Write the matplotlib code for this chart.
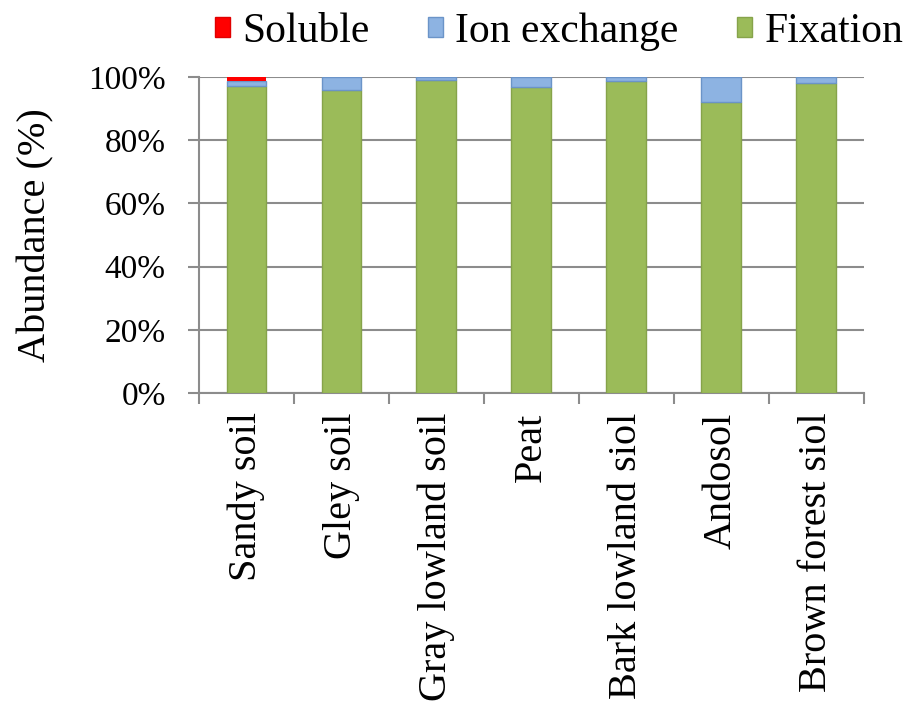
import matplotlib
matplotlib.use("Agg")
import matplotlib.pyplot as plt
from matplotlib.ticker import PercentFormatter, FixedLocator, NullFormatter
from matplotlib.patches import Patch
import numpy as np

categories = ["Sandy soil", "Gley soil", "Gray lowland soil", "Peat",
              "Bark lowland siol", "Andosol", "Brown forest siol"]
soluble = [1.2, 0.0, 0.0, 0.0, 0.0, 0.0, 0.0]
ion_exchange = [1.5, 4.0, 0.8, 3.3, 1.3, 7.8, 2.0]
fixation = [97.3, 96.0, 99.2, 96.7, 98.7, 92.2, 98.0]
y_ticks = [0, 20, 40, 60, 80, 100]

plt.rcParams["font.family"] = ["Liberation Serif", "DejaVu Serif"]

fig = plt.figure(figsize=(9.09, 7.09), dpi=100)
ax = fig.add_axes([0.219, 0.4457, 0.731, 0.4457])

x = np.arange(len(categories))
w = 0.42
grid_c = "#8c8c8c"

fix_arr = np.array(fixation)
ion_arr = np.array(ion_exchange)
sol_arr = np.array(soluble)

ax.bar(x, fix_arr, w, color="#9BBB59", edgecolor="#86a34a", linewidth=1, zorder=3)
ax.bar(x, ion_arr, w, bottom=fix_arr, color="#8DB3E2", edgecolor="#6b94c8", linewidth=1, zorder=3)
ax.bar(x, sol_arr, w, bottom=fix_arr + ion_arr, color="#FF0000", edgecolor="#e00000",
       linewidth=0, zorder=3)

ax.set_xlim(-0.5, len(categories) - 0.5)
ax.set_ylim(0, 100)
ax.set_yticks(y_ticks)
ax.yaxis.set_major_formatter(PercentFormatter(100, decimals=0))
ax.yaxis.grid(True, color=grid_c, linewidth=1.5, zorder=0)
ax.set_axisbelow(True)

ax.set_xticks(x)
ax.set_xticklabels(categories, rotation=90, fontsize=29)
ax.tick_params(axis="x", which="major", length=0, pad=14)
ax.xaxis.set_minor_locator(FixedLocator(np.arange(-0.5, len(categories), 1.0)))
ax.xaxis.set_minor_formatter(NullFormatter())
ax.tick_params(axis="x", which="minor", length=8, width=1.5, color=grid_c, direction="out")
ax.tick_params(axis="y", length=8, width=1.5, color=grid_c, labelsize=24, pad=16)

for s in ["top", "right"]:
    ax.spines[s].set_visible(False)
for s in ["left", "bottom"]:
    ax.spines[s].set_color(grid_c)
    ax.spines[s].set_linewidth(1.5)

ax.set_ylabel("Abundance (%)", fontsize=29, labelpad=24)

handles = [Patch(facecolor="#FF0000", edgecolor="#e00000"),
           Patch(facecolor="#8DB3E2", edgecolor="#6b94c8"),
           Patch(facecolor="#9BBB59", edgecolor="#86a34a")]
fig.legend(handles, ["Soluble", "Ion exchange", "Fixation"], ncol=3,
           loc="center", bbox_to_anchor=(0.615, 0.955), frameon=False,
           fontsize=30, handlelength=0.36, handleheight=0.36,
           handletextpad=0.3, columnspacing=1.4, borderaxespad=0)

fig.savefig("out.png", dpi=100)
